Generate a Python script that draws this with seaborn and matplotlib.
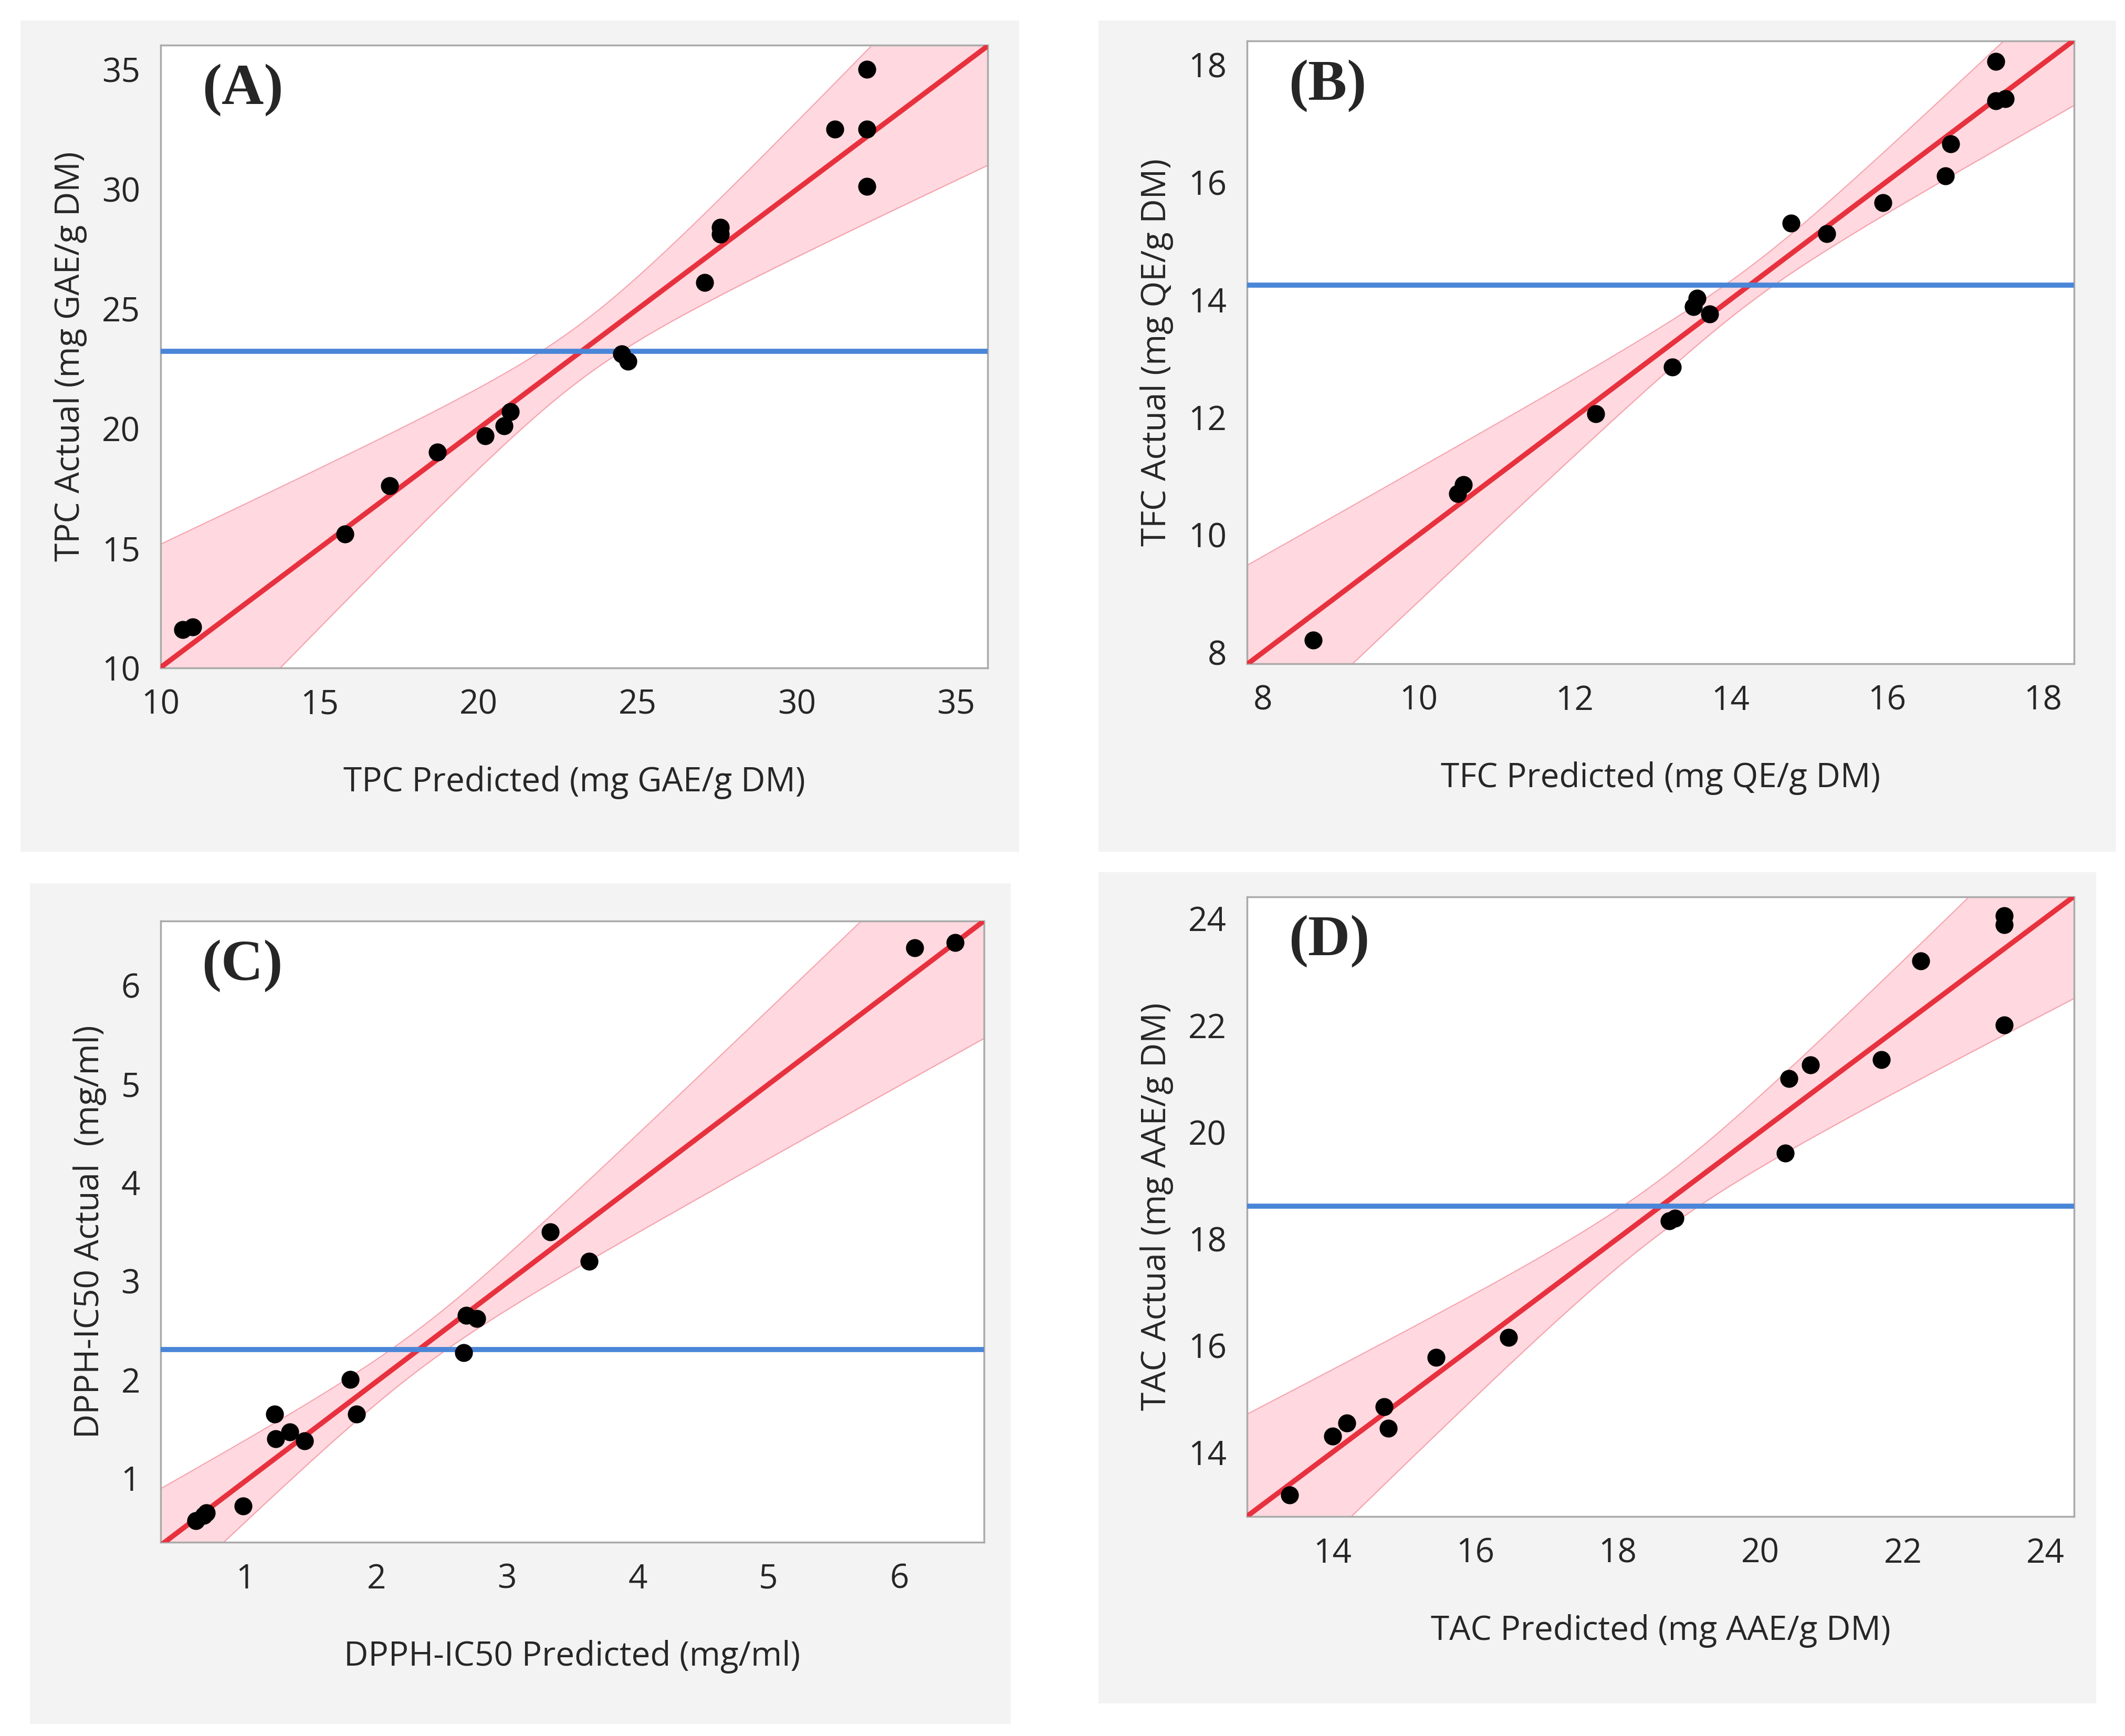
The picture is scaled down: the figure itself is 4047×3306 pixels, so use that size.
import numpy as np
import pandas as pd
import matplotlib.pyplot as plt
import seaborn as sns

# Actual by predicted data
tpc_pred = [10.7, 11.0, 15.8, 17.2, 18.7, 20.2, 20.8, 21.0, 24.5, 24.7, 27.1, 27.6, 27.6, 31.2, 32.2, 32.2, 32.2]
tpc_act = [11.6, 11.7, 15.6, 17.6, 19.0, 19.7, 20.1, 20.7, 23.1, 22.8, 26.1, 28.4, 28.1, 32.5, 35.0, 32.5, 30.1]
tfc_pred = [8.65, 10.5, 10.57, 12.27, 13.25, 13.52, 13.57, 13.73, 14.77, 15.23, 15.95, 16.75, 16.82, 17.4, 17.4, 17.52]
tfc_act = [8.2, 10.7, 10.85, 12.05, 12.85, 13.88, 14.02, 13.75, 15.3, 15.12, 15.65, 16.1, 16.65, 18.05, 17.38, 17.42]
dpph_pred = [0.62, 0.68, 0.7, 0.98, 1.22, 1.23, 1.34, 1.45, 1.8, 1.85, 2.67, 2.69, 2.77, 3.33, 3.63, 6.12, 6.43]
dpph_act = [0.57, 0.62, 0.65, 0.72, 1.65, 1.4, 1.47, 1.38, 2.0, 1.65, 2.27, 2.65, 2.62, 3.5, 3.2, 6.38, 6.43]
tac_pred = [13.4, 14.0, 14.2, 14.72, 14.78, 15.45, 16.47, 18.72, 18.8, 20.35, 20.4, 20.7, 21.7, 22.25, 23.42, 23.42, 23.42]
tac_act = [13.2, 14.3, 14.55, 14.85, 14.45, 15.78, 16.15, 18.33, 18.38, 19.6, 21.0, 21.25, 21.35, 23.2, 24.05, 23.88, 22.0]

panels = [
    dict(tag="(A)", x=tpc_pred, y=tpc_act, lim=(10, 36), ticks=[10, 15, 20, 25, 30, 35],
         xlabel="TPC Predicted (mg GAE/g DM)", ylabel="TPC Actual (mg GAE/g DM)",
         bg=[39, 39, 1941, 1622], ax=[306, 86, 1881, 1272], band=8.5),
    dict(tag="(B)", x=tfc_pred, y=tfc_act, lim=(7.8, 18.4), ticks=[8, 10, 12, 14, 16, 18],
         xlabel="TFC Predicted (mg QE/g DM)", ylabel="TFC Actual (mg QE/g DM)",
         bg=[2092, 39, 4030, 1622], ax=[2375, 78, 3950, 1264], band=7.0),
    dict(tag="(C)", x=dpph_pred, y=dpph_act, lim=(0.35, 6.65), ticks=[1, 2, 3, 4, 5, 6],
         xlabel="DPPH-IC50 Predicted (mg/ml)", ylabel="DPPH-IC50 Actual  (mg/ml)",
         bg=[57, 1682, 1925, 3283], ax=[306, 1754, 1874, 2937], band=8.0),
    dict(tag="(D)", x=tac_pred, y=tac_act, lim=(12.8, 24.4), ticks=[14, 16, 18, 20, 22, 24],
         xlabel="TAC Predicted (mg AAE/g DM)", ylabel="TAC Actual (mg AAE/g DM)",
         bg=[2092, 1661, 3992, 3244], ax=[2375, 1708, 3950, 2888], band=7.5),
]

W, H = 4048, 3306
sns.set_style("white")
plt.rcParams['font.family'] = ['Open Sans', 'DejaVu Sans']
fig = plt.figure(figsize=(W / 100, H / 100), dpi=100)
fig.patch.set_facecolor("white")


def frac(box):
    x0, y0, x1, y1 = box
    return [x0 / W, 1 - y1 / H, (x1 - x0) / W, (y1 - y0) / H]


for p in panels:
    bgax = fig.add_axes(frac(p["bg"]), zorder=0)
    bgax.set_facecolor("#f3f3f3")
    bgax.set_xticks([]); bgax.set_yticks([])
    for s in bgax.spines.values():
        s.set_visible(False)

    ax = fig.add_axes(frac(p["ax"]), zorder=1)
    ax.set_facecolor("white")
    x = np.array(p["x"]); y = np.array(p["y"])
    lo, hi = p["lim"]

    # least squares fit and a (leverage-style, widened) confidence band
    n = len(x)
    b, a = np.polyfit(x, y, 1)
    resid = y - (a + b * x)
    s = np.sqrt(np.sum(resid ** 2) / (n - 2))
    xx = np.linspace(lo, hi, 200)
    se = s * np.sqrt(0.2 / n + (xx - x.mean()) ** 2 / np.sum((x - x.mean()) ** 2))
    fit = a + b * xx
    k = p["band"]
    ax.fill_between(xx, fit - k * se, fit + k * se, color="#ffd9df", zorder=1)
    ax.plot(xx, fit - k * se, color="#f5a3ad", lw=1.5, zorder=2)
    ax.plot(xx, fit + k * se, color="#f5a3ad", lw=1.5, zorder=2)
    ax.plot(xx, fit, color="#e8313e", lw=7, zorder=3)
    ax.axhline(y.mean(), color="#4a86d8", lw=7, zorder=4)

    df = pd.DataFrame({"pred": x, "act": y})
    sns.scatterplot(data=df, x="pred", y="act", ax=ax, color="black", s=520,
                    edgecolor="black", zorder=5)

    ax.set_xlim(lo, hi); ax.set_ylim(lo, hi)
    ax.set_xticks(p["ticks"]); ax.set_yticks(p["ticks"])
    ax.tick_params(labelsize=46, length=16, width=2, color="#999999", direction="out", pad=12)
    for sp in ax.spines.values():
        sp.set_color("#aaaaaa"); sp.set_linewidth(2.5)
    ax.set_xlabel(p["xlabel"], fontsize=46, labelpad=60)
    ax.set_ylabel(p["ylabel"], fontsize=46, labelpad=20)
    ax.text(0.05, 0.97, p["tag"], transform=ax.transAxes, fontsize=80, weight="bold",
            family="Liberation Serif", va="top", ha="left", zorder=6)

fig.savefig("out.png", dpi=100)
